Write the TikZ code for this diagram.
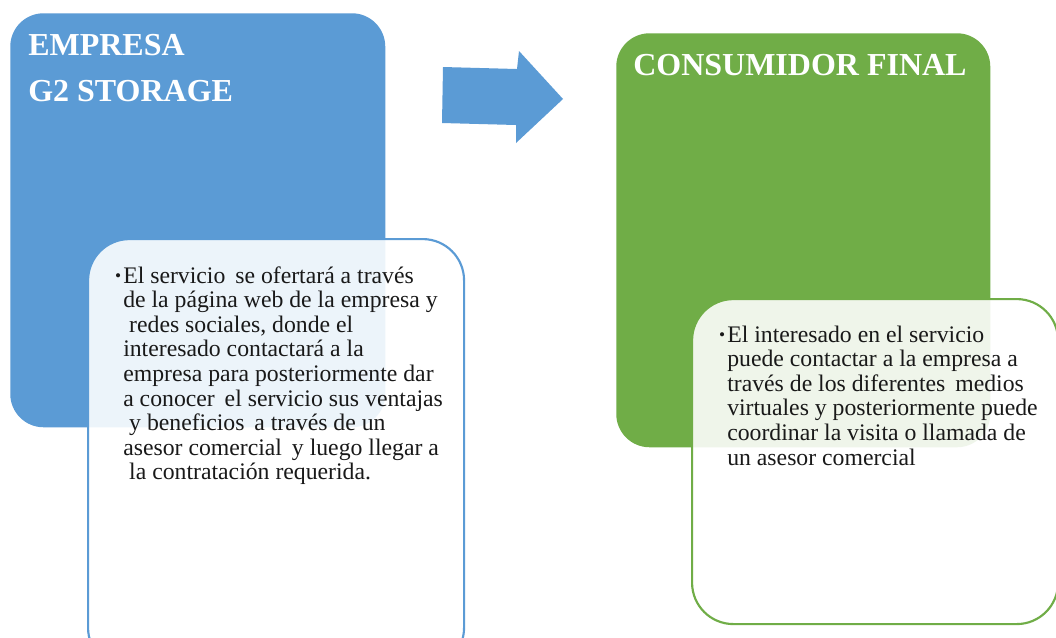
\documentclass[tikz,border=0pt]{standalone}
\usepackage{fontspec}
\setmainfont{Liberation Serif}
\usetikzlibrary{positioning}
\definecolor{empblue}{HTML}{5B9BD5}
\definecolor{congreen}{HTML}{70AD47}

\tikzset{
  headbox/.style={rounded corners=25pt, inner sep=0pt, anchor=north west, fill=#1},
  notebox/.style={rounded corners=31pt, inner sep=0pt, anchor=north west,
    draw=#1, line width=1.6pt, fill=white, fill opacity=0.89},
  headtext/.style={text=white, inner sep=0pt, anchor=base west,
    font=\fontsize{24}{35.2}\selectfont\bfseries},
  notetext/.style={inner sep=0pt, anchor=base west, text=black!90,
    font=\fontsize{17.8}{18.45}\selectfont},
}
\newcommand{\notebullet}{\leavevmode\llap{\raisebox{1pt}{\fontsize{13}{13}\selectfont\textbullet}\hspace{1.5pt}}}

\begin{document}
\begin{tikzpicture}[x=0.75pt, y=-0.75pt]
  \clip (0,0) rectangle (1056,637);
  \fill[white] (0,0) rectangle (1056,637);

  % empresa
  \node[headbox=empblue, minimum width=281.25pt, minimum height=310.5pt] (empresa) at (10,13) {};
  \node[headtext] (empresatitle) at (28,55) {\parbox[t]{200pt}{EMPRESA\\G2 STORAGE}};
  \node[notebox=empblue, minimum width=282pt, minimum height=322.5pt] (empresanote) at (87,238) {};
  \node[notetext] (empresatext) at (123,283) {\parbox[t]{270pt}{\raggedright
    \notebullet El servicio\, se ofertará a través\\
    de la página web de la empresa y\\
    \hspace*{0.25em}redes sociales, donde el\\
    interesado contactará a la\\
    empresa para posteriormente dar\\
    a conocer\, el servicio sus ventajas\\
    \hspace*{0.25em}y beneficios\, a través de un\\
    asesor comercial\, y luego llegar a\\
    \hspace*{0.25em}la contratación requerida.}};

  % flecha
  \fill[empblue] (443,67) -- (517,69) -- (519,51) -- (563,99) -- (516,143)
    -- (516,125) -- (442,123) -- cycle;

  % consumidor
  \node[headbox=congreen, minimum width=280.5pt, minimum height=310.5pt] (consumidor) at (616,33) {};
  \node[headtext] (consumidortitle) at (633,75) {CONSUMIDOR FINAL};
  \node[notebox=congreen, minimum width=274.5pt, minimum height=243.75pt] (consumidornote) at (691,298) {};
  \node[notetext] (consumidortext) at (727,342) {\parbox[t]{260pt}{\raggedright
    \notebullet El interesado en el servicio\\
    puede contactar a la empresa a\\
    través de los diferentes\, medios\\
    virtuales y posteriormente puede\\
    coordinar la visita o llamada de\\
    un asesor comercial}};
\end{tikzpicture}
\end{document}
